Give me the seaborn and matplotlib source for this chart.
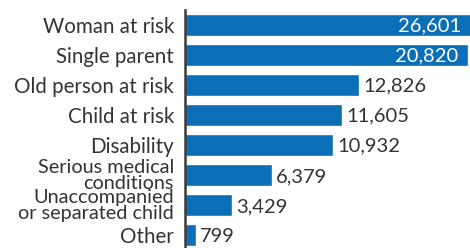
import matplotlib
matplotlib.use("Agg")
import matplotlib.pyplot as plt
import seaborn as sns
import pandas as pd

categories = [
    "Woman at risk",
    "Single parent",
    "Old person at risk",
    "Child at risk",
    "Disability",
    "Serious medical\nconditions",
    "Unaccompanied\nor separated child",
    "Other",
]
values = [26601, 20820, 12826, 11605, 10932, 6379, 3429, 799]
value_labels = ["26,601", "20,820", "12,826", "11,605", "10,932", "6,379", "3,429", "799"]

BAR = "#0a6fb7"
TXT = "#333333"

sns.set_theme(style="white")
plt.rcParams["font.family"] = ["Lato", "DejaVu Sans"]

df = pd.DataFrame({"category": categories, "value": values})

fig = plt.figure(figsize=(4.70, 2.48), dpi=100)
ax = fig.add_axes([0.3936, -0.008, 0.6064, 0.969])
sns.barplot(data=df, y="category", x="value", orient="h", color=BAR,
            saturation=1, width=0.73, ax=ax)

xmax = 21000
ax.set_xlim(0, xmax)
ax.set_ylim(len(categories) - 0.5, -0.5)

for s in ["top", "right", "bottom"]:
    ax.spines[s].set_visible(False)
ax.spines["left"].set_color("#3a3a3a")
ax.spines["left"].set_linewidth(1.8)
ax.set_xticks([])
ax.set_xlabel("")
ax.set_ylabel("")
ax.tick_params(axis="y", length=0)
ax.set_yticklabels([""] * len(categories))

# category labels; the two-line ones are set a bit tighter
for i, cat in enumerate(categories):
    multi = "\n" in cat
    ax.annotate(cat, (0, i), xytext=(-8, 0), textcoords="offset points",
                ha="right", va="center_baseline", color=TXT,
                fontsize=14.3 if multi else 14.8,
                linespacing=0.9, annotation_clip=False)

for i, (v, t) in enumerate(zip(values, value_labels)):
    if v > 0.8 * xmax:
        ax.annotate(t, (min(v, xmax), i), xytext=(-6.5, 0), textcoords="offset points",
                    ha="right", va="center_baseline", color="white", fontsize=14.5)
    else:
        ax.annotate(t, (v, i), xytext=(3, 0), textcoords="offset points",
                    ha="left", va="center_baseline", color=TXT, fontsize=14.5)

fig.savefig("out.png", dpi=100)
